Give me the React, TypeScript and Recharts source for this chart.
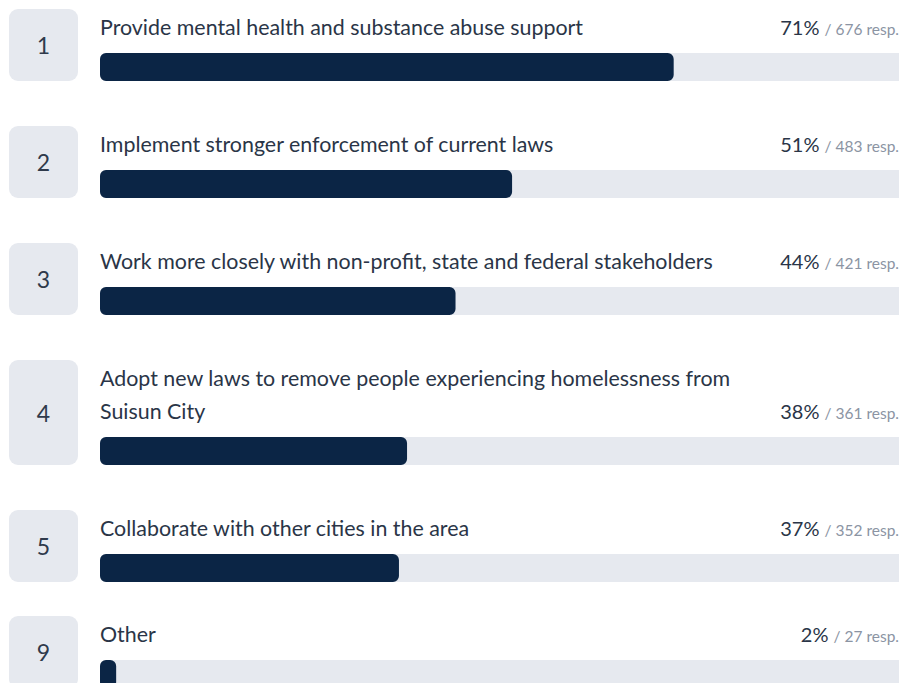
import { BarChart, Bar, XAxis, YAxis } from 'recharts';

const ranks = [1, 2, 3, 4, 5, 9];

const labels = [
  'Provide mental health and substance abuse support',
  'Implement stronger enforcement of current laws',
  'Work more closely with non-profit, state and federal stakeholders',
  'Adopt new laws to remove people experiencing homelessness from Suisun City',
  'Collaborate with other cities in the area',
  'Other',
];

const percents = [71, 51, 44, 38, 37, 2];

const responses = [676, 483, 421, 361, 352, 27];

const NAVY = '#0b2545';
const TRACK = '#e6e9ef';

function ProgressBar({ value, label }: { value: number; label: string }) {
  return (
    <div style={{ height: 28, lineHeight: 0, overflow: 'hidden' }}>
      <BarChart
        layout="vertical"
        width={808}
        height={28}
        data={[{ label, value }]}
        margin={{ top: 0, right: 0, bottom: 0, left: 0 }}
        barCategoryGap={0}
      >
        <XAxis type="number" domain={[0, 100]} hide />
        <YAxis type="category" dataKey="label" hide />
        <Bar
          dataKey="value"
          fill={NAVY}
          radius={6}
          background={{ fill: TRACK, radius: 6 }}
          isAnimationActive={false}
        />
      </BarChart>
    </div>
  );
}

export default function App() {
  return (
    <div
      style={{
        position: 'fixed',
        left: 0,
        top: 0,
        width: 899,
        height: 683,
        overflow: 'hidden',
        background: '#fff',
        fontFamily: 'Lato, "Noto Sans", sans-serif',
      }}
    >
      {ranks.map((rank, i) => (
        <div
          key={rank}
          style={{
            display: 'flex',
            marginTop: i === 0 ? 9 : i === ranks.length - 1 ? 34 : 45,
          }}
        >
          {/* rank badge */}
          <div
            style={{
              marginLeft: 9,
              width: 69,
              flexShrink: 0,
              borderRadius: 9,
              background: TRACK,
              display: 'flex',
              alignItems: 'center',
              justifyContent: 'center',
              fontSize: 23,
              color: '#2f3a4b',
            }}
          >
            {rank}
          </div>

          <div style={{ marginLeft: 22, width: 808, flexShrink: 0 }}>
            <div
              style={{
                width: 799,
                display: 'flex',
                justifyContent: 'space-between',
                alignItems: 'flex-end',
                paddingBottom: 11,
                position: 'relative',
                top: 2,
              }}
            >
              <div style={{ width: 650, fontSize: 21.4, lineHeight: '33px', color: '#2a3547' }}>
                {labels[i]}
              </div>
              <div
                style={{
                  height: 33,
                  display: 'flex',
                  alignItems: 'baseline',
                  whiteSpace: 'nowrap',
                  color: '#2a3547',
                }}
              >
                <span style={{ fontSize: 20, lineHeight: '33px' }}>{percents[i]}%</span>
                <span style={{ fontSize: 15.5, lineHeight: '33px', color: '#8b94a3', marginLeft: 5 }}>
                  / {responses[i]} resp.
                </span>
              </div>
            </div>
            <ProgressBar value={percents[i]} label={labels[i]} />
          </div>
        </div>
      ))}
    </div>
  );
}
